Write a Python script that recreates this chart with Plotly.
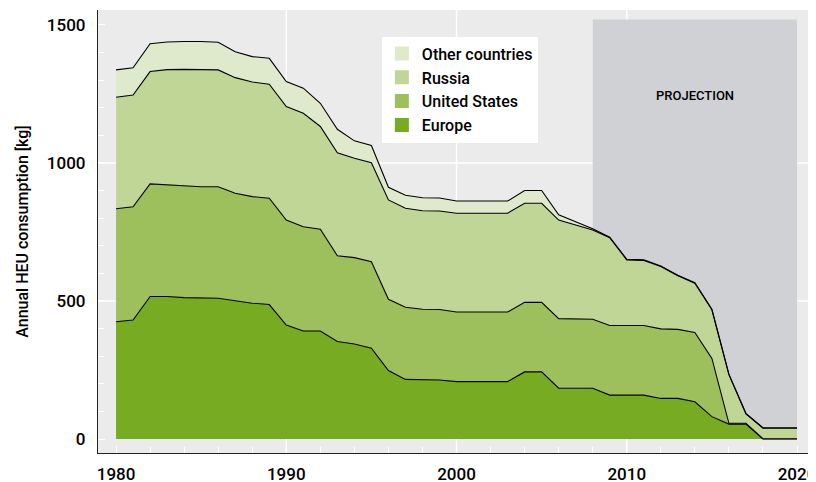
import plotly.graph_objects as go

# data (kg of HEU per year)
years = list(range(1980, 2021))
europe = [425, 431, 516, 516, 512, 511, 510, 501, 492, 487,
          413, 391, 391, 353, 344, 329, 248, 216, 216, 214,
          208, 208, 208, 208, 243, 243, 184, 184, 184, 159,
          159, 159, 147, 147, 135, 81, 54, 54, 0, 0, 0]
united_states = [409, 410, 408, 404, 405, 403, 404, 389, 386, 385,
                 380, 378, 369, 311, 313, 313, 258, 261, 254, 255,
                 252, 252, 252, 252, 252, 252, 252, 251, 250, 252,
                 252, 252, 252, 250, 251, 211, 3, 3, 1, 1, 1]
russia = [404, 405, 407, 418, 422, 424, 423, 419, 415, 413,
          411, 411, 372, 373, 360, 359, 360, 359, 357, 357,
          358, 358, 358, 358, 359, 359, 357, 340, 323, 318,
          238, 236, 226, 194, 178, 176, 176, 34, 38, 38, 38]
other = [99, 99, 101, 100, 101, 102, 100, 94, 92, 94,
         91, 91, 84, 85, 63, 62, 46, 47, 47, 47,
         44, 44, 44, 44, 46, 46, 19, 11, 5, 2,
         2, 2, 2, 2, 2, 2, 2, 2, 2, 2, 2]

series = [("Europe", europe, "#76ab22"),
          ("United States", united_states, "#9dc05c"),
          ("Russia", russia, "#c0d697"),
          ("Other countries", other, "#dfe9cc")]

FONT = "Roboto"

fig = go.Figure()
for name, vals, col in series:
    fig.add_trace(go.Scatter(x=years, y=vals, stackgroup="one", mode="lines",
                             line=dict(color="black", width=1.1), fillcolor=col,
                             name=name, showlegend=False, hoverinfo="x+y+name"))
# square legend swatches
for name, vals, col in series:
    fig.add_trace(go.Scatter(x=[None], y=[None], mode="markers", name=name,
                             marker=dict(symbol="square", size=14, color=col)))

# projection band and white grid lines (below the areas)
shapes = [dict(type="rect", xref="x", yref="y", x0=2008, x1=2020, y0=0, y1=1520,
               fillcolor="#d0d1d4", line=dict(width=0), layer="below")]
for yv in [500, 1000]:
    shapes.append(dict(type="line", xref="paper", yref="y", x0=0, x1=1, y0=yv, y1=yv,
                       line=dict(color="white", width=1.5), layer="below"))
for xv in [1990, 2000, 2010]:
    shapes.append(dict(type="line", xref="x", yref="paper", x0=xv, x1=xv, y0=0, y1=1,
                       line=dict(color="white", width=1.5), layer="below"))

# page body has an 8px margin, so the figure starts 8px in from the window corner
fig.update_layout(
    width=816, height=474,
    margin=dict(l=90, r=11, t=2, b=29),
    paper_bgcolor="white", plot_bgcolor="#ebebeb",
    font=dict(family=FONT, size=16, color="black"),
    shapes=shapes,
    showlegend=True,
    legend=dict(x=0.397, y=0.940, xanchor="left", yanchor="top",
                bgcolor="white", traceorder="reversed",
                font=dict(family=FONT, size=16, weight=500),
                itemwidth=30, tracegroupgap=0),
    annotations=[dict(x=2014, y=1246, xref="x", yref="y", text="PROJECTION",
                      showarrow=False, font=dict(family=FONT, size=13, weight=500))],
)

fig.update_xaxes(range=[1978.94, 2020.94], showgrid=False, zeroline=False, automargin=False,
                 tickvals=[1980, 1990, 2000, 2010, 2020], ticklabeloverflow="allow",
                 ticks="inside", ticklen=7, tickcolor="white",
                 minor=dict(dtick=2, tick0=1980, ticks="inside", ticklen=6, tickcolor="white"),
                 showline=True, linecolor="#222", linewidth=1.2,
                 tickfont=dict(family=FONT, size=17, weight=500), ticklabelstandoff=5)
fig.update_yaxes(range=[-50.7, 1554], showgrid=False, zeroline=False, automargin=False,
                 tickvals=[0, 500, 1000, 1500],
                 ticks="inside", ticklen=7, tickcolor="white",
                 minor=dict(dtick=100, tick0=0, ticks="inside", ticklen=6, tickcolor="white"),
                 showline=True, linecolor="#222", linewidth=1.2,
                 tickfont=dict(family=FONT, size=17, weight=500), ticklabelstandoff=8,
                 title=dict(text="Annual HEU consumption [kg]", standoff=14,
                            font=dict(family=FONT, size=16, weight=500)))

fig.write_html("out.html")
